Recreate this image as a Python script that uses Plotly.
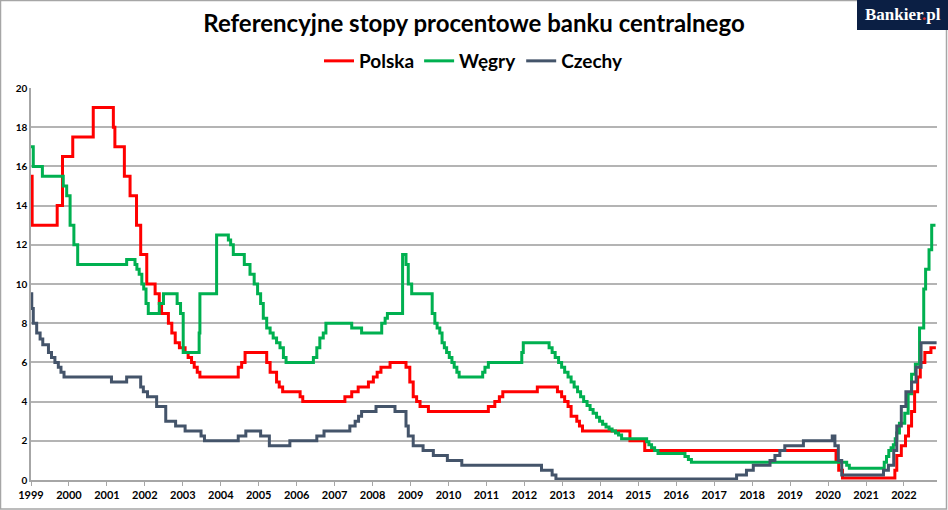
import plotly.graph_objects as go

# decimal year of each rate change, rate in %
pl_t = [1999.0, 1999.03, 1999.69, 1999.83, 2000.1, 2000.64, 2001.17, 2001.21, 2001.46, 2001.61,
        2001.78, 2001.89, 2002.05, 2002.27, 2002.38, 2002.44, 2002.62, 2002.71, 2002.8, 2002.91,
        2003.06, 2003.14, 2003.23, 2003.3, 2003.38, 2003.45, 2004.46, 2004.55, 2004.64, 2005.21,
        2005.3, 2005.47, 2005.54, 2005.63, 2006.09, 2006.16, 2007.27, 2007.45, 2007.62, 2007.89,
        2008.02, 2008.12, 2008.22, 2008.46, 2008.88, 2008.98, 2009.07, 2009.16, 2009.25, 2009.47,
        2011.05, 2011.22, 2011.34, 2011.43, 2012.34, 2012.87, 2012.98, 2013.06, 2013.15, 2013.23,
        2013.38, 2013.45, 2013.53, 2014.78, 2015.17, 2020.21, 2020.28, 2020.38, 2021.76, 2021.81,
        2021.93, 2022.04, 2022.12, 2022.2, 2022.28, 2022.36, 2022.43, 2022.55, 2022.71, 2022.84]
pl_v = [15.5, 13.0, 14.0, 16.5, 17.5, 19.0, 18.0, 17.0, 15.5, 14.5,
        13.0, 11.5, 10.0, 9.5, 9.0, 8.5, 8.0, 7.5, 7.0, 6.75,
        6.5, 6.25, 6.0, 5.75, 5.5, 5.25, 5.75, 6.0, 6.5, 6.0,
        5.5, 5.0, 4.75, 4.5, 4.25, 4.0, 4.25, 4.5, 4.75, 5.0,
        5.25, 5.5, 5.75, 6.0, 5.75, 5.0, 4.25, 4.0, 3.75, 3.5,
        3.75, 4.0, 4.25, 4.5, 4.75, 4.5, 4.25, 4.0, 3.75, 3.25,
        3.0, 2.75, 2.5, 2.0, 1.5, 1.0, 0.5, 0.1, 0.5, 1.25,
        1.75, 2.25, 2.75, 3.5, 4.5, 5.25, 6.0, 6.5, 6.75, 6.75]

hu_t = [1999.0, 1999.06, 1999.3, 1999.85, 1999.94, 2000.03, 2000.13, 2000.23, 2001.52, 2001.74,
        2001.79, 2001.85, 2001.92, 2001.97, 2002.03, 2002.09, 2002.38, 2002.49, 2002.85, 2002.94,
        2003.01, 2003.43, 2003.45, 2003.89, 2004.2, 2004.26, 2004.33, 2004.62, 2004.77, 2004.88,
        2004.97, 2005.05, 2005.12, 2005.21, 2005.3, 2005.38, 2005.47, 2005.56, 2005.65, 2005.72,
        2006.44, 2006.53, 2006.61, 2006.7, 2006.77, 2007.45, 2007.71, 2008.24, 2008.33, 2008.39,
        2008.79, 2008.88, 2008.94, 2009.03, 2009.57, 2009.64, 2009.7, 2009.77, 2009.83, 2009.89,
        2009.95, 2010.02, 2010.09, 2010.15, 2010.22, 2010.28, 2010.9, 2010.96, 2011.05, 2011.93,
        2011.97, 2012.65, 2012.73, 2012.81, 2012.9, 2012.98, 2013.06, 2013.15, 2013.23, 2013.31,
        2013.4, 2013.48, 2013.56, 2013.65, 2013.73, 2013.81, 2013.9, 2013.98, 2014.06, 2014.15,
        2014.23, 2014.31, 2014.4, 2014.48, 2014.56, 2015.22, 2015.28, 2015.35, 2015.43, 2015.52,
        2016.23, 2016.32, 2016.4, 2020.49, 2020.56, 2021.48, 2021.54, 2021.6, 2021.66, 2021.72,
        2021.77, 2021.81, 2021.88, 2022.02, 2022.11, 2022.2, 2022.3, 2022.41, 2022.52, 2022.57,
        2022.66, 2022.73, 2022.83]
hu_v = [17.0, 16.0, 15.5, 15.0, 14.5, 13.0, 12.0, 11.0, 11.25, 11.0,
        10.75, 10.5, 10.0, 9.75, 9.0, 8.5, 9.0, 9.5, 9.0, 8.5,
        6.5, 7.5, 9.5, 12.5, 12.25, 12.0, 11.5, 11.0, 10.5, 10.0,
        9.5, 9.0, 8.25, 7.75, 7.5, 7.25, 7.0, 6.75, 6.25, 6.0,
        6.25, 6.75, 7.25, 7.5, 8.0, 7.75, 7.5, 8.0, 8.25, 8.5,
        11.5, 11.0, 10.0, 9.5, 8.5, 8.0, 7.75, 7.5, 7.0, 6.75,
        6.5, 6.25, 6.0, 5.75, 5.5, 5.25, 5.5, 5.75, 6.0, 6.5,
        7.0, 6.75, 6.5, 6.25, 6.0, 5.75, 5.5, 5.25, 5.0, 4.75,
        4.5, 4.25, 4.0, 3.8, 3.6, 3.4, 3.2, 3.0, 2.85, 2.7,
        2.6, 2.5, 2.4, 2.3, 2.1, 1.95, 1.8, 1.65, 1.5, 1.35,
        1.2, 1.05, 0.9, 0.75, 0.6, 0.9, 1.2, 1.5, 1.65, 1.8,
        2.1, 2.4, 2.9, 3.4, 4.4, 5.4, 5.9, 7.75, 9.75, 10.75,
        11.75, 13.0, 13.0]

cz_t = [1999.0, 1999.02, 1999.06, 1999.15, 1999.24, 1999.31, 1999.46, 1999.54, 1999.63, 1999.72,
        1999.79, 1999.87, 2001.12, 2001.52, 2001.89, 2001.96, 2002.07, 2002.31, 2002.55, 2002.81,
        2003.06, 2003.48, 2003.57, 2004.46, 2004.66, 2005.05, 2005.28, 2005.82, 2006.53, 2006.72,
        2007.4, 2007.54, 2007.63, 2007.71, 2008.09, 2008.59, 2008.88, 2008.94, 2009.07, 2009.33,
        2009.6, 2009.97, 2010.35, 2012.45, 2012.73, 2012.83, 2017.59, 2017.85, 2018.03, 2018.47,
        2018.6, 2018.73, 2018.86, 2019.35, 2020.11, 2020.18, 2020.27, 2020.36, 2021.46, 2021.59,
        2021.73, 2021.81, 2021.93, 2022.05, 2022.2, 2022.32, 2022.45, 2022.86]
cz_v = [9.5, 8.75, 8.0, 7.5, 7.2, 6.9, 6.5, 6.25, 6.0, 5.75,
        5.5, 5.25, 5.0, 5.25, 4.75, 4.5, 4.25, 3.75, 3.0, 2.75,
        2.5, 2.25, 2.0, 2.25, 2.5, 2.25, 1.75, 2.0, 2.25, 2.5,
        2.75, 3.0, 3.25, 3.5, 3.75, 3.5, 2.75, 2.25, 1.75, 1.5,
        1.25, 1.0, 0.75, 0.5, 0.25, 0.05, 0.25, 0.5, 0.75, 1.0,
        1.25, 1.5, 1.75, 2.0, 2.25, 1.75, 1.0, 0.25, 0.5, 0.75,
        1.5, 2.75, 3.75, 4.5, 5.0, 5.75, 7.0, 7.0]

years = list(range(1999, 2023))

fig = go.Figure()
fig.add_trace(go.Scatter(x=pl_t, y=pl_v, name='Polska', mode='lines', line_shape='hv',
                         line=dict(color='#ff0000', width=3)))
fig.add_trace(go.Scatter(x=hu_t, y=hu_v, name='Węgry', mode='lines', line_shape='hv',
                         line=dict(color='#00b050', width=3)))
fig.add_trace(go.Scatter(x=cz_t, y=cz_v, name='Czechy', mode='lines', line_shape='hv',
                         line=dict(color='#44546a', width=3)))

fig.update_layout(
    width=948, height=510,
    margin=dict(l=31, r=11, t=88, b=30),
    paper_bgcolor='white', plot_bgcolor='white',
    font=dict(family='Lato', color='#000000'),
    title=dict(text='Referencyjne stopy procentowe banku centralnego',
               x=0.5, xanchor='center', xref='container',
               y=1 - 24 / 510, yanchor='middle', yref='container',
               font=dict(family='Lato', size=24, weight='bold', color='#000000')),
    legend=dict(orientation='h', x=0.5, xanchor='center', xref='container',
                y=1 - 61 / 510, yanchor='middle', yref='container',
                font=dict(size=19, weight='bold'), itemwidth=30,
                bgcolor='rgba(0,0,0,0)'),
    showlegend=True,
)

fig.update_xaxes(range=[1999, 2022.87], tickvals=years, ticktext=[str(y) for y in years],
                 showgrid=False, showline=True, linecolor='#a6a6a6', linewidth=1.5,
                 ticks='outside', ticklen=4, tickcolor='#a6a6a6', tickwidth=1,
                 tickfont=dict(size=11, weight='bold', color='#000000'), zeroline=False,
                 automargin=False)
fig.update_yaxes(range=[0, 20], dtick=2, showgrid=True, gridcolor='#b4b4b4', gridwidth=1.5,
                 showline=True, linecolor='#a6a6a6', linewidth=1.5, ticks='',
                 tickfont=dict(size=10, weight='bold', color='#000000'), zeroline=False,
                 automargin=False)

# frame around the chart and the Bankier.pl badge
fig.add_shape(type='rect', xref='paper', yref='paper',
              x0=-30.5 / 906, x1=915.5 / 906, y0=-29 / 392, y1=479.5 / 392,
              line=dict(color='#a6a6a6', width=1.5), fillcolor='rgba(0,0,0,0)', layer='below')
fig.add_shape(type='rect', xref='paper', yref='paper',
              x0=826 / 906, x1=917 / 906, y0=450 / 392, y1=481 / 392,
              line=dict(width=0), fillcolor='#0b1f44', layer='above')
fig.add_annotation(text="Bankier<span style='color:#e0302a'>.</span>pl",
                   xref='paper', yref='paper', x=871.5 / 906, y=466 / 392,
                   xanchor='center', yanchor='middle', showarrow=False,
                   font=dict(family='Liberation Serif', size=17, weight='bold', color='white'))

# drop the default page margin so the figure sits at the window corner
fig.write_html("out.html", config={'displayModeBar': False},
               post_script="document.body.style.margin='0';")
